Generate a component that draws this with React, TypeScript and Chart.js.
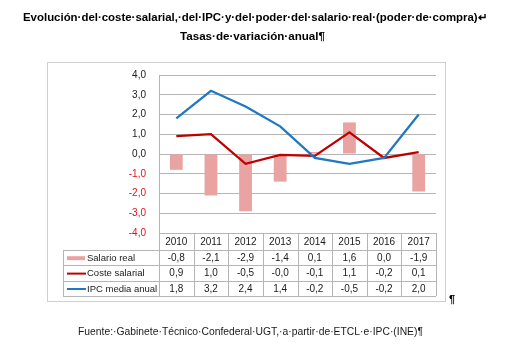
import React, { useEffect, useRef } from 'react';
import { Chart, registerables } from 'chart.js';

Chart.register(...registerables);

// ---- Data ----
const years = ['2010', '2011', '2012', '2013', '2014', '2015', '2016', '2017'];
const salarioReal = [-0.8, -2.1, -2.9, -1.4, 0.1, 1.6, 0.0, -1.9];
const costeSalarial = [0.9, 1.0, -0.5, -0.04, -0.1, 1.1, -0.2, 0.1];
const ipcMediaAnual = [1.8, 3.2, 2.4, 1.4, -0.2, -0.5, -0.2, 2.0];
const seriesNames = ['Salario real', 'Coste salarial', 'IPC media anual'];
const yMin = -4;
const yMax = 4;
const yStep = 1;

const titleLine1 = 'Evolución·del·coste·salarial,·del·IPC·y·del·poder·del·salario·real·(poder·de·compra)↵';
const titleLine2 = 'Tasas·de·variación·anual¶';
const footerText = 'Fuente:·Gabinete·Técnico·Confederal·UGT,·a·partir·de·ETCL·e·IPC·(INE)¶';
const paraMark = '¶';

// ---- Styles ----
const COLOR_BAR = '#E9A3A3';
const COLOR_COSTE = '#C00000';
const COLOR_IPC = '#1F78C1';
const COLOR_GRID = '#b5b5b5';
const COLOR_TABLE = '#b5b5b5';
const FONT = '"Liberation Sans", Arial, sans-serif';

const fmt = (v: number) => v.toFixed(1).replace('.', ',');

const tablePlugin = {
  id: 'dataTable',
  beforeDraw(chart: any) {
    const ctx = chart.ctx;
    ctx.save();
    ctx.fillStyle = '#ffffff';
    ctx.fillRect(0, 0, chart.width, chart.height);
    ctx.strokeStyle = '#cfcfcf';
    ctx.lineWidth = 1;
    ctx.strokeRect(47.5, 62.5, 398, 239);
    ctx.restore();
  },
  afterDraw(chart: any) {
    const { ctx, chartArea, scales } = chart;
    const xs = scales.x;
    const n = years.length;
    const colW = (chartArea.right - chartArea.left) / n;
    const top = Math.round(chartArea.bottom);
    const headerBottom = top + 17;
    const rowH = 15.4;
    const legendLeft = 63;
    const tableBottom = Math.round(headerBottom + rowH * 3);
    const right = Math.round(chartArea.right);

    ctx.save();
    ctx.strokeStyle = COLOR_TABLE;
    ctx.lineWidth = 1;
    ctx.beginPath();
    // header top
    ctx.moveTo(Math.round(chartArea.left), top + 0.5);
    ctx.lineTo(right, top + 0.5);
    // row lines
    for (let r = 0; r <= 3; r++) {
      const y = Math.round(headerBottom + r * rowH) + 0.5;
      ctx.moveTo(legendLeft, y);
      ctx.lineTo(right, y);
    }
    // vertical lines for columns
    for (let i = 0; i <= n; i++) {
      const x = Math.round(chartArea.left + i * colW) + 0.5;
      ctx.moveTo(x, top);
      ctx.lineTo(x, tableBottom);
    }
    ctx.moveTo(legendLeft + 0.5, headerBottom);
    ctx.lineTo(legendLeft + 0.5, tableBottom);
    ctx.stroke();

    // header years
    ctx.fillStyle = '#1a1a1a';
    ctx.font = `10px ${FONT}`;
    ctx.textAlign = 'center';
    ctx.textBaseline = 'middle';
    years.forEach((y, i) => {
      ctx.fillText(y, xs.getPixelForValue(i), top + 9);
    });

    const rows = [salarioReal, costeSalarial, ipcMediaAnual];
    rows.forEach((vals, r) => {
      const cy = headerBottom + r * rowH + rowH / 2 + 0.5;
      ctx.font = `10px ${FONT}`;
      ctx.textAlign = 'center';
      ctx.fillStyle = '#1a1a1a';
      vals.forEach((v, i) => {
        ctx.fillText(fmt(v), xs.getPixelForValue(i), cy);
      });
      // legend marker
      if (r === 0) {
        ctx.fillStyle = COLOR_BAR;
        ctx.fillRect(67, cy - 2, 18, 4);
      } else {
        ctx.strokeStyle = r === 1 ? COLOR_COSTE : COLOR_IPC;
        ctx.lineWidth = 2;
        ctx.beginPath();
        ctx.moveTo(67, cy);
        ctx.lineTo(86, cy);
        ctx.stroke();
      }
      ctx.fillStyle = '#1a1a1a';
      ctx.textAlign = 'left';
      ctx.font = `9.5px ${FONT}`;
      ctx.fillText(seriesNames[r], 87, cy);
    });
    ctx.restore();
  },
};

export default function App() {
  const canvasRef = useRef<HTMLCanvasElement | null>(null);

  useEffect(() => {
    if (!canvasRef.current) return;
    const chart = new Chart(canvasRef.current, {
      type: 'bar',
      data: {
        labels: years,
        datasets: [
          {
            type: 'line',
            label: seriesNames[2],
            data: ipcMediaAnual,
            borderColor: COLOR_IPC,
            borderWidth: 2.25,
            pointRadius: 0,
            tension: 0,
            fill: false,
            order: 1,
          } as any,
          {
            type: 'line',
            label: seriesNames[1],
            data: costeSalarial,
            borderColor: COLOR_COSTE,
            borderWidth: 2.25,
            pointRadius: 0,
            tension: 0,
            fill: false,
            order: 2,
          } as any,
          {
            type: 'bar',
            label: seriesNames[0],
            data: salarioReal,
            backgroundColor: COLOR_BAR,
            barPercentage: 0.37,
            categoryPercentage: 1,
            order: 3,
          },
        ],
      },
      options: {
        animation: false,
        responsive: false,
        devicePixelRatio: 1,
        layout: { padding: { left: 129, top: 75, right: 69, bottom: 118 } },
        plugins: {
          legend: { display: false },
          title: { display: false },
          tooltip: { enabled: false },
        },
        scales: {
          x: { type: 'category', display: false, offset: true },
          y: {
            min: yMin,
            max: yMax,
            afterFit: (scale: any) => {
              scale.width = 30;
            },
            ticks: {
              stepSize: yStep,
              padding: 13,
              font: { family: FONT, size: 10 },
              color: (c: any) => (c.tick && c.tick.value < 0 ? '#E3101A' : '#1a1a1a'),
              callback: (v: any) => fmt(Number(v)),
            },
            grid: { color: COLOR_GRID, drawTicks: false, lineWidth: 1 },
            border: { display: true, color: COLOR_GRID },
          },
        },
      },
      plugins: [tablePlugin],
    } as any);
    return () => chart.destroy();
  }, []);

  return (
    <div style={{ position: 'fixed', left: 0, top: 0, width: 505, height: 351, background: '#fff' }}>
      <canvas ref={canvasRef} width={505} height={351} style={{ position: 'absolute', left: 0, top: 0, width: 505, height: 351 }} />
      <svg width={505} height={351} style={{ position: 'absolute', left: 0, top: 0, pointerEvents: 'none' }}>
        <text x={23} y={21} fontFamily={FONT} fontWeight="bold" fontSize={11} fill="#000" textLength={464} lengthAdjust="spacingAndGlyphs">{titleLine1}</text>
        <text x={180} y={40} fontFamily={FONT} fontWeight="bold" fontSize={11} fill="#000" textLength={145} lengthAdjust="spacingAndGlyphs">{titleLine2}</text>
        <text x={449} y={303} fontFamily={FONT} fontWeight="bold" fontSize={11} fill="#000">{paraMark}</text>
        <text x={78} y={335} fontFamily={FONT} fontSize={11} fill="#1a1a1a" textLength={345} lengthAdjust="spacingAndGlyphs">{footerText}</text>
      </svg>
    </div>
  );
}
